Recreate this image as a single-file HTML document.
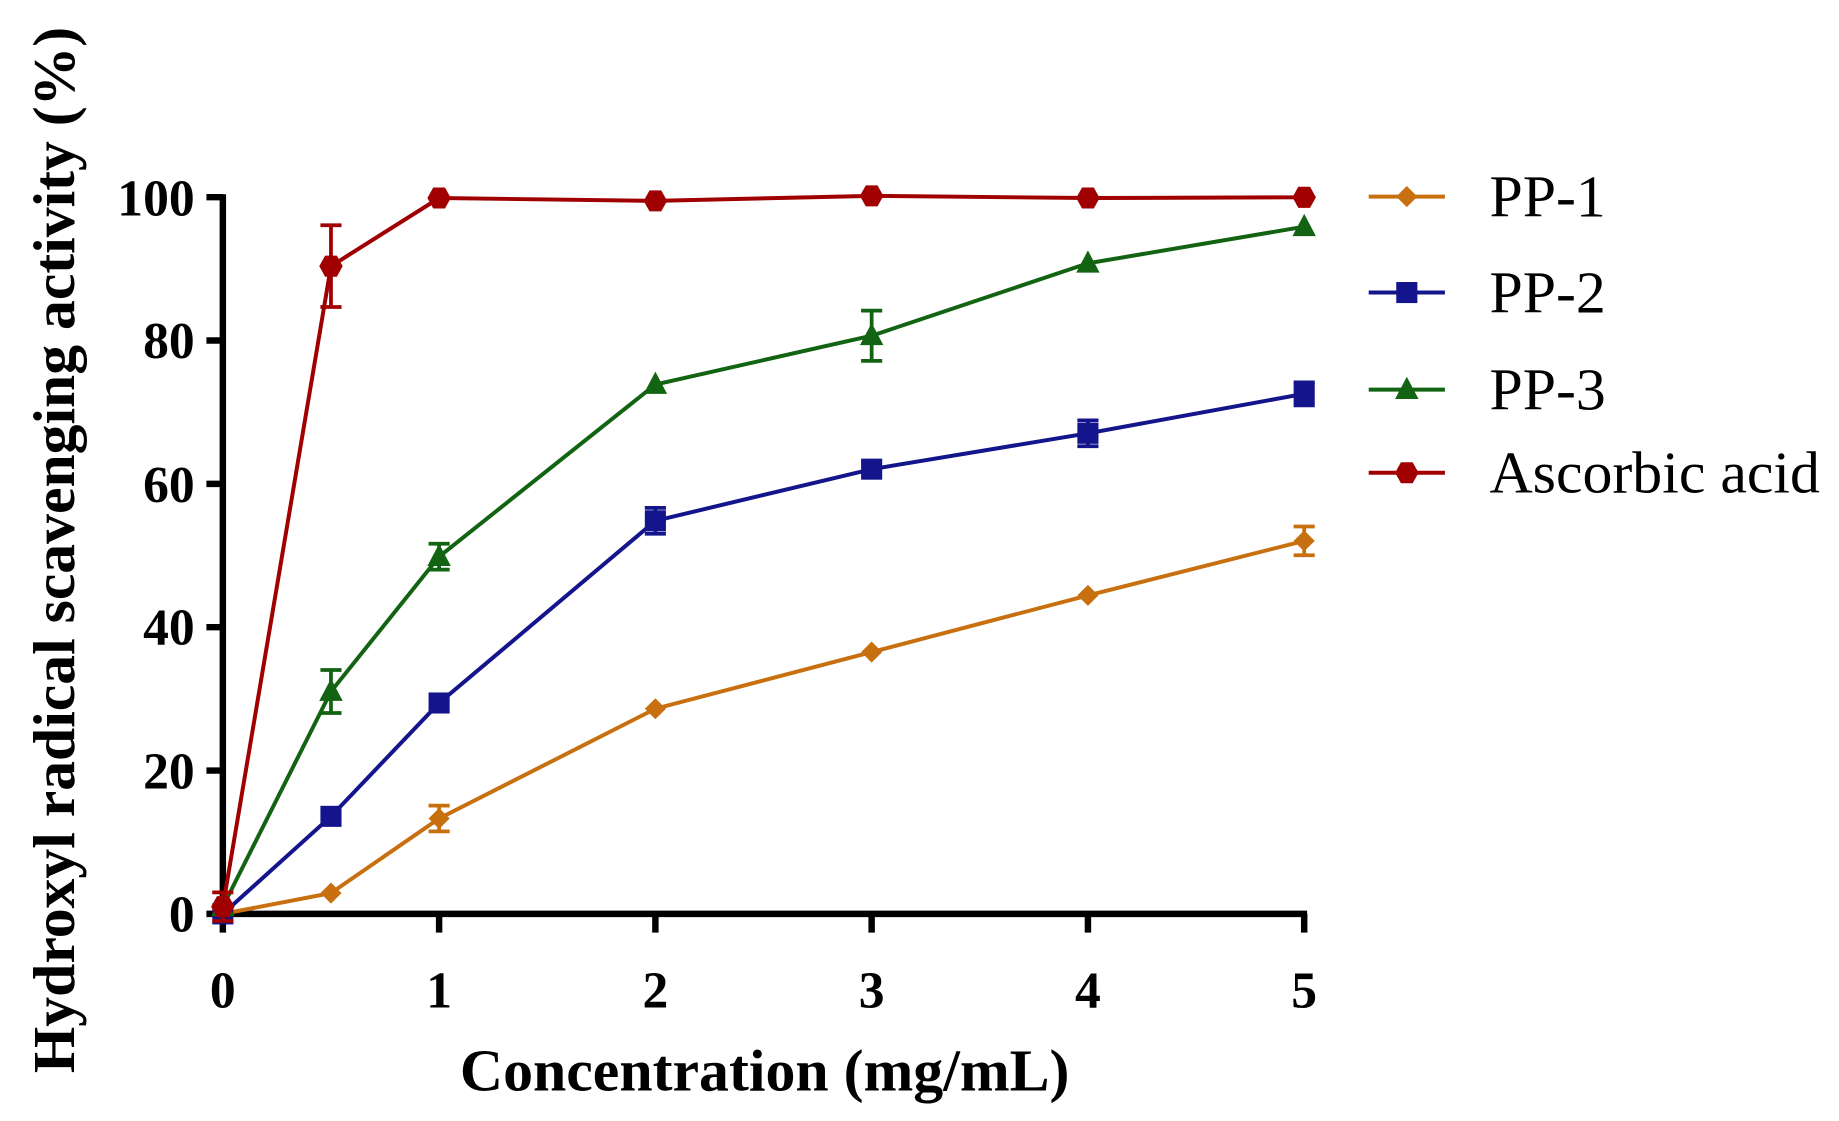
<!DOCTYPE html>
<html><head><meta charset="utf-8"><style>html,body{margin:0;padding:0;background:#fff;}svg{display:block}</style></head>
<body>
<svg id="s" width="1839" height="1121" viewBox="0 0 1568 958" preserveAspectRatio="none" xmlns="http://www.w3.org/2000/svg" font-family="Liberation Serif, serif">
<g stroke="#000" stroke-width="5.5" fill="none">
<line x1="190" y1="166" x2="190" y2="783.5"/>
<line x1="187.5" y1="781" x2="1114.5" y2="781"/>
<line x1="176" y1="168.5" x2="190" y2="168.5"/>
<line x1="176" y1="291" x2="190" y2="291"/>
<line x1="176" y1="413.5" x2="190" y2="413.5"/>
<line x1="176" y1="536" x2="190" y2="536"/>
<line x1="176" y1="658.5" x2="190" y2="658.5"/>
<line x1="176" y1="781" x2="190" y2="781"/>
<line x1="190" y1="781" x2="190" y2="797"/>
<line x1="374.4" y1="781" x2="374.4" y2="797"/>
<line x1="558.8" y1="781" x2="558.8" y2="797"/>
<line x1="743.2" y1="781" x2="743.2" y2="797"/>
<line x1="927.6" y1="781" x2="927.6" y2="797"/>
<line x1="1112" y1="781" x2="1112" y2="797"/>
</g>
<g font-size="44" font-weight="bold" text-anchor="end">
<text x="166" y="184">100</text><text x="166" y="306">80</text><text x="166" y="429">60</text>
<text x="166" y="551">40</text><text x="166" y="674">20</text><text x="166" y="796">0</text>
</g>
<g font-size="44" font-weight="bold" text-anchor="middle">
<text x="190" y="861">0</text><text x="374.4" y="861">1</text><text x="558.8" y="861">2</text>
<text x="743.2" y="861">3</text><text x="927.6" y="861">4</text><text x="1112" y="861">5</text>
</g>
<text x="652" y="932" font-size="51" font-weight="bold" text-anchor="middle">Concentration (mg/mL)</text>
<text transform="translate(63,470) rotate(-90)" font-size="51" font-weight="bold" text-anchor="middle">Hydroxyl radical scavenging activity (%)</text>
<g font-size="51">
<text x="1270" y="185">PP-1</text><text x="1270" y="267">PP-2</text>
<text x="1270" y="350">PP-3</text><text x="1270" y="421">Ascorbic acid</text>
</g>
<g id="plot"></g>
</svg>
<script>
var X=function(v){return 190+v*184.4},Y=function(v){return 781-v*6.13};
var xs=[0,0.5,1,2,3,4,5];
var S=[
{c:"#c8700f",m:"d",y:[0,2.9,13.3,28.6,36.5,44.4,52],e:[0,0,1.8,0,0,0,2],ly:168},
{c:"#14148c",m:"s",y:[0,13.6,29.4,54.8,62,67,72.5],e:[0,0,0,1.8,0,1.8,1.6],ly:250},
{c:"#126312",m:"t",y:[1,31,49.8,73.8,80.6,90.7,95.8],e:[0,3,1.8,0,3.5,0,0],ly:333},
{c:"#a00000",m:"c",y:[1,90.3,99.8,99.4,100.1,99.8,99.9],e:[2,5.7,0,0,0,0,0],ly:404}];
var h="";
function mk(m,x,y,c){
 if(m=="d")return '<polygon points="'+x+','+(y-9)+' '+(x+9)+','+y+' '+x+','+(y+9)+' '+(x-9)+','+y+'" fill="'+c+'"/>';
 if(m=="s")return '<rect x="'+(x-9)+'" y="'+(y-9)+'" width="18" height="18" fill="'+c+'"/>';
 if(m=="t")return '<polygon points="'+x+','+(y-11)+' '+(x+10)+','+(y+8)+' '+(x-10)+','+(y+8)+'" fill="'+c+'"/>';
 return '<polygon points="'+(x-5)+','+(y-9)+' '+(x+5)+','+(y-9)+' '+(x+10)+','+y+' '+(x+5)+','+(y+9)+' '+(x-5)+','+(y+9)+' '+(x-10)+','+y+'" fill="'+c+'"/>';
}
S.forEach(function(s){
 var p=xs.map(function(x,i){return X(x)+","+Y(s.y[i])}).join(" ");
 h+='<polyline points="'+p+'" fill="none" stroke="'+s.c+'" stroke-width="3.4"/>';
 xs.forEach(function(x,i){var e=s.e[i];if(e>0){var cx=X(x),a=Y(s.y[i]+e),b=Y(s.y[i]-e);
  h+='<path d="M'+cx+' '+a+'V'+b+'M'+(cx-9)+' '+a+'H'+(cx+9)+'M'+(cx-9)+' '+b+'H'+(cx+9)+'" stroke="'+s.c+'" stroke-width="3.2" fill="none"/>';}
  h+=mk(s.m,X(x),Y(s.y[i]),s.c);});
 h+='<line x1="1167" y1="'+s.ly+'" x2="1232" y2="'+s.ly+'" stroke="'+s.c+'" stroke-width="3.4"/>'+mk(s.m,1199.5,s.ly,s.c);
});
document.getElementById("plot").innerHTML=h;
</script>
</body></html>
